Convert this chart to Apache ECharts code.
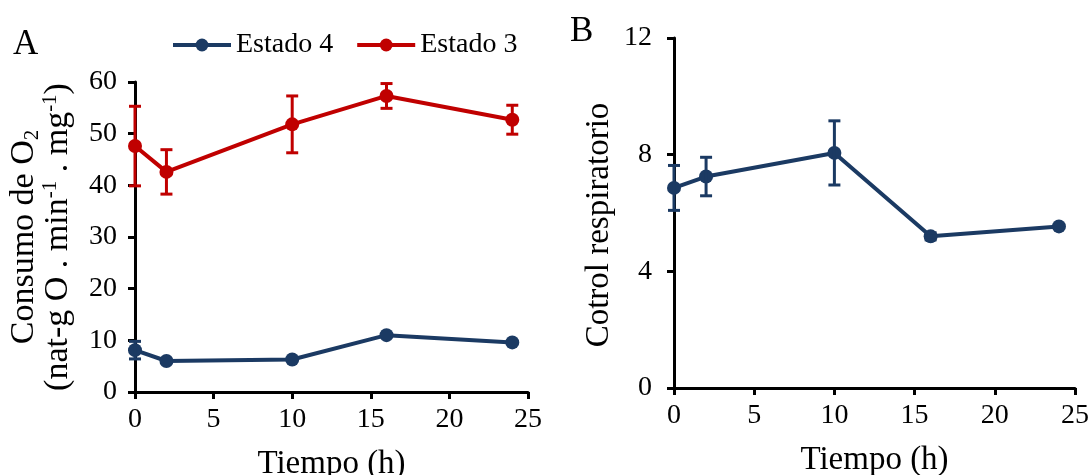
<!DOCTYPE html>
<html>
<head>
<meta charset="utf-8">
<script src="https://cdn.jsdelivr.net/npm/echarts@6/dist/echarts.min.js"></script>
<style>
  html, body { margin: 0; padding: 0; background: #fff; }
  #chart { width: 1092px; height: 475px; }
</style>
</head>
<body>
<div id="chart"></div>
<script>
// datos
var horas = [0, 2, 10, 16, 24];
var estado4 = [8.1, 6.0, 6.3, 11.0, 9.6];
var estado4Err = [1.7, 0, 0, 0, 0];
var estado3 = [47.6, 42.6, 51.8, 57.3, 52.7];
var estado3Err = [7.7, 4.3, 5.5, 2.4, 2.8];
var control = [6.86, 7.25, 8.06, 5.2, 5.54];
var controlErr = [0.77, 0.66, 1.1, 0.12, 0];

var AZUL = '#1b3a63';
var ROJO = '#c00000';
var FONT = '"Liberation Serif", "DejaVu Serif", serif';

function pares(ys) {
  return horas.map(function (h, i) { return [h, ys[i]]; });
}
function barras(ys, err) {
  var out = [];
  horas.forEach(function (h, i) {
    if (err[i] > 0) out.push([h, ys[i] - err[i], ys[i] + err[i]]);
  });
  return out;
}
function errRender(color) {
  return function (params, api) {
    var x = api.value(0);
    var p1 = api.coord([x, api.value(1)]);
    var p2 = api.coord([x, api.value(2)]);
    var w = 6;
    var st = { stroke: color, lineWidth: 3 };
    return {
      type: 'group',
      children: [
        { type: 'line', shape: { x1: p1[0], y1: p1[1], x2: p2[0], y2: p2[1] }, style: st },
        { type: 'line', shape: { x1: p1[0] - w, y1: p1[1], x2: p1[0] + w, y2: p1[1] }, style: st },
        { type: 'line', shape: { x1: p2[0] - w, y1: p2[1], x2: p2[0] + w, y2: p2[1] }, style: st }
      ]
    };
  };
}

function ejeX(idx) {
  return {
    gridIndex: idx,
    type: 'value',
    min: 0, max: 25, interval: 5,
    name: 'Tiempo (h)',
    nameLocation: 'middle',
    nameGap: 56,
    nameTextStyle: { fontFamily: FONT, fontSize: 33, color: '#000' },
    splitLine: { show: false },
    axisLine: { show: true, lineStyle: { color: '#000', width: 3 } },
    axisTick: { show: true, inside: false, length: 7, lineStyle: { color: '#000', width: 3 } },
    axisLabel: { fontFamily: FONT, fontSize: 28, color: '#000', margin: 14 }
  };
}
function ejeY(idx, max, step, margin) {
  return {
    gridIndex: idx,
    type: 'value',
    min: 0, max: max, interval: step,
    nameLocation: 'middle',
    splitLine: { show: false },
    axisLine: { show: true, lineStyle: { color: '#000', width: 3 } },
    axisTick: { show: true, inside: false, length: 7, lineStyle: { color: '#000', width: 3 } },
    axisLabel: { fontFamily: FONT, fontSize: 28, color: '#000', margin: margin }
  };
}

var chart = echarts.init(document.getElementById('chart'), null, { renderer: 'canvas' });

var yIzq = ejeY(0, 60, 10, 18);
yIzq.name = '{t|Consumo de O}{sub|2}\n{t|(nat-g O . min}{sup|-1}{t| . mg}{sup|-1}{t|)}';
yIzq.nameGap = 60;
yIzq.nameTextStyle = {
  fontFamily: FONT, fontSize: 34, color: '#000', lineHeight: 34,
  rich: {
    t: { fontFamily: FONT, fontSize: 34, color: '#000', lineHeight: 34 },
    sub: { fontFamily: FONT, fontSize: 21, color: '#000', lineHeight: 34, padding: [16, 0, 0, 0] },
    sup: { fontFamily: FONT, fontSize: 21, color: '#000', lineHeight: 34, padding: [0, 0, 16, 0] }
  }
};

var yDer = ejeY(1, 12, 4, 22);
yDer.name = 'Cotrol respiratorio';
yDer.nameGap = 58;
yDer.nameTextStyle = { fontFamily: FONT, fontSize: 33, color: '#000', padding: [0, 24, 0, 0] };

var option = {
  backgroundColor: '#fff',
  animation: false,
  title: [
    { text: 'A', left: 8, top: 22, textStyle: { fontFamily: FONT, fontSize: 35, fontWeight: 'normal', color: '#000' } },
    { text: 'B', left: 565, top: 9, textStyle: { fontFamily: FONT, fontSize: 35, fontWeight: 'normal', color: '#000' } }
  ],
  legend: {
    data: ['Estado 4', 'Estado 3'],
    left: 166, top: 26,
    itemWidth: 58, itemHeight: 16, itemGap: 22,
    lineStyle: { width: 4 },
    textStyle: { fontFamily: FONT, fontSize: 28, color: '#000' }
  },
  grid: [
    { left: 135, top: 82, width: 393, height: 310, outerBoundsMode: 'none', containLabel: false },
    { left: 674, top: 38, width: 401, height: 350, outerBoundsMode: 'none', containLabel: false }
  ],
  xAxis: [ejeX(0), ejeX(1)],
  yAxis: [yIzq, yDer],
  series: [
    {
      name: 'Estado 4', type: 'line', xAxisIndex: 0, yAxisIndex: 0,
      data: pares(estado4),
      symbol: 'circle', symbolSize: 14,
      lineStyle: { color: AZUL, width: 4 }, itemStyle: { color: AZUL }, z: 3
    },
    {
      name: 'Estado 3', type: 'line', xAxisIndex: 0, yAxisIndex: 0,
      data: pares(estado3),
      symbol: 'circle', symbolSize: 14,
      lineStyle: { color: ROJO, width: 4 }, itemStyle: { color: ROJO }, z: 3
    },
    {
      type: 'custom', xAxisIndex: 0, yAxisIndex: 0,
      data: barras(estado4, estado4Err), renderItem: errRender(AZUL),
      encode: { x: 0, y: [1, 2] }, z: 4
    },
    {
      type: 'custom', xAxisIndex: 0, yAxisIndex: 0,
      data: barras(estado3, estado3Err), renderItem: errRender(ROJO),
      encode: { x: 0, y: [1, 2] }, z: 4
    },
    {
      name: 'Control', type: 'line', xAxisIndex: 1, yAxisIndex: 1,
      data: pares(control),
      symbol: 'circle', symbolSize: 14,
      lineStyle: { color: AZUL, width: 4 }, itemStyle: { color: AZUL }, z: 3
    },
    {
      type: 'custom', xAxisIndex: 1, yAxisIndex: 1,
      data: barras(control, controlErr), renderItem: errRender(AZUL),
      encode: { x: 0, y: [1, 2] }, z: 4
    }
  ]
};
chart.setOption(option);
</script>
</body>
</html>
